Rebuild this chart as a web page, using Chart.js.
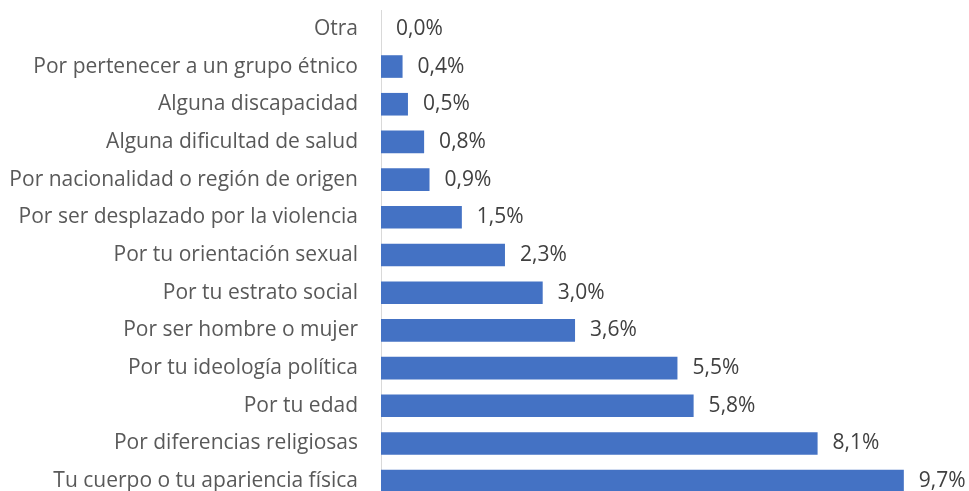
<!DOCTYPE html>
<html>
<head>
<meta charset="utf-8">
<script src="https://cdn.jsdelivr.net/npm/chart.js@4"></script>
<style>
  html, body { margin: 0; padding: 0; background: #fff; overflow: hidden; }
  canvas { display: block; }
</style>
</head>
<body>
<canvas id="chart" width="969" height="500"></canvas>
<script>
const categories = [
  "Otra",
  "Por pertenecer a un grupo étnico",
  "Alguna discapacidad",
  "Alguna dificultad de salud",
  "Por nacionalidad o región de origen",
  "Por ser desplazado por la violencia",
  "Por tu orientación sexual",
  "Por tu estrato social",
  "Por ser hombre o mujer",
  "Por tu ideología política",
  "Por tu edad",
  "Por diferencias religiosas",
  "Tu cuerpo o tu apariencia física"
];
const values = [0.0, 0.4, 0.5, 0.8, 0.9, 1.5, 2.3, 3.0, 3.6, 5.5, 5.8, 8.1, 9.7];

// draw "x,x%" labels at the end of each bar
const barLabels = {
  id: "barLabels",
  afterDatasetsDraw(chart) {
    const ctx = chart.ctx;
    const meta = chart.getDatasetMeta(0);
    ctx.save();
    ctx.font = "21px 'Open Sans'";
    ctx.fillStyle = "#404040";
    ctx.textAlign = "left";
    ctx.textBaseline = "middle";
    meta.data.forEach((bar, i) => {
      const txt = values[i].toFixed(1).replace(".", ",") + "%";
      ctx.fillText(txt, bar.x + 15, bar.y);
    });
    ctx.restore();
  }
};

new Chart(document.getElementById("chart"), {
  type: "bar",
  data: {
    labels: categories,
    datasets: [{
      data: values,
      backgroundColor: "#4472C4",
      categoryPercentage: 1,
      barPercentage: 0.6
    }]
  },
  options: {
    indexAxis: "y",
    responsive: false,
    animation: false,
    layout: { padding: { top: 10, right: 49, left: 0, bottom: 0 } },
    plugins: { legend: { display: false }, tooltip: { enabled: false } },
    scales: {
      x: { display: false, min: 0, max: 10 },
      y: {
        grid: { display: false, drawTicks: false },
        border: { display: true, color: "#d9d9d9", width: 1 },
        ticks: { color: "#595959", font: { family: "'Open Sans'", size: 21 }, padding: 23 },
        afterFit(scale) {
          // fixed label column, no extra room above/below the first and last label
          scale.width = 381;
          scale.paddingTop = 0;
          scale.paddingBottom = 0;
        }
      }
    }
  },
  plugins: [barLabels]
});
</script>
</body>
</html>
